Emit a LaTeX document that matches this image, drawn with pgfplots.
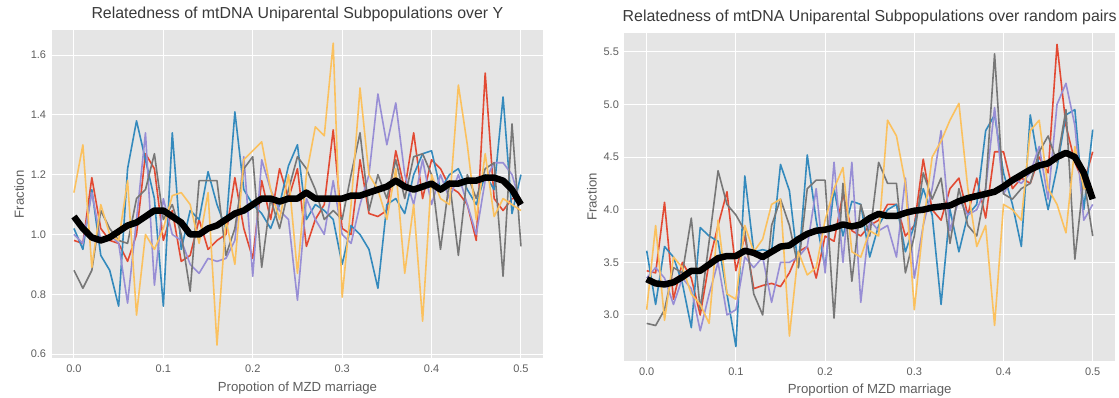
\documentclass[border=0pt]{standalone}
\usepackage{pgfplots}
\pgfplotsset{compat=1.18}
\usepackage{pgfplotstable}
\usepackage{fontspec}
\setmainfont{Liberation Sans}
\definecolor{cR}{HTML}{E24A33}
\definecolor{cB}{HTML}{348ABD}
\definecolor{cP}{HTML}{988ED5}
\definecolor{cG}{HTML}{777777}
\definecolor{cY}{HTML}{FBC15E}
\definecolor{bgc}{HTML}{E5E5E5}
\definecolor{tickc}{HTML}{5E5E5E}
\definecolor{titc}{HTML}{3A3A3A}

\pgfplotstableread{
x r b p g y k
0.00 0.98 1.02 1.00 0.88 1.14 1.06
0.01 0.97 0.95 0.97 0.82 1.30 1.02
0.02 1.19 1.15 1.14 0.88 0.89 0.99
0.03 1.02 0.93 0.98 1.08 1.10 0.98
0.04 0.98 0.88 1.00 1.02 1.00 0.99
0.05 0.97 0.76 0.97 0.98 0.98 1.01
0.06 0.91 1.22 0.77 0.97 1.18 1.03
0.07 1.00 1.38 1.05 1.12 0.73 1.04
0.08 1.27 1.25 1.34 1.15 1.00 1.06
0.09 1.22 1.12 0.83 1.27 0.95 1.08
0.10 0.98 0.76 1.12 1.05 1.02 1.08
0.11 1.08 1.34 1.00 1.10 1.13 1.06
0.12 0.91 0.95 0.98 1.00 1.14 1.04
0.13 0.93 1.08 0.90 0.81 1.10 1.00
0.14 1.05 1.05 0.87 1.18 0.97 1.00
0.15 0.95 1.21 0.92 1.18 1.14 1.02
0.16 0.98 1.10 0.91 1.18 0.63 1.03
0.17 1.00 1.02 0.92 0.93 1.05 1.05
0.18 1.19 1.41 0.98 1.02 0.90 1.07
0.19 1.02 1.15 1.26 1.22 1.25 1.08
0.20 0.92 1.10 0.86 1.26 1.28 1.10
0.21 1.18 1.07 1.25 0.89 1.31 1.12
0.22 1.05 1.02 1.15 1.12 1.15 1.12
0.23 1.22 1.10 1.08 1.02 1.05 1.11
0.24 1.12 1.23 1.05 1.15 1.20 1.12
0.25 1.22 1.30 0.78 1.26 0.87 1.12
0.26 0.96 1.05 1.12 1.22 1.20 1.14
0.27 1.05 1.10 1.05 1.15 1.36 1.12
0.28 1.10 1.08 1.00 1.05 1.33 1.12
0.29 1.35 1.05 1.18 1.08 1.64 1.12
0.30 1.02 0.90 1.00 1.05 0.79 1.12
0.31 1.00 1.03 0.97 1.20 1.10 1.13
0.32 1.25 1.00 1.10 1.34 1.49 1.13
0.33 1.07 0.95 1.20 1.08 1.20 1.14
0.34 1.06 0.82 1.47 1.20 1.15 1.15
0.35 1.08 1.10 1.30 1.12 1.05 1.16
0.36 1.28 1.12 1.44 1.25 1.22 1.18
0.37 1.15 1.07 1.20 1.12 0.87 1.16
0.38 1.34 1.20 1.10 1.26 1.10 1.15
0.39 1.12 1.27 1.25 1.27 0.71 1.16
0.40 1.25 1.28 1.10 1.20 1.20 1.17
0.41 1.22 1.15 1.20 0.95 1.12 1.15
0.42 1.16 1.20 1.12 1.18 1.10 1.17
0.43 1.14 1.22 1.20 0.93 1.50 1.17
0.44 1.10 1.15 1.10 1.20 1.30 1.18
0.45 0.98 1.10 1.00 1.12 1.05 1.18
0.46 1.54 1.20 1.18 1.22 1.27 1.19
0.47 1.12 1.15 1.24 1.24 1.06 1.19
0.48 1.08 1.46 1.24 0.86 1.12 1.18
0.49 1.12 1.07 1.20 1.37 1.10 1.15
0.50 1.12 1.20 1.10 0.96 1.08 1.10
}\tabL

\pgfplotstableread{
x r b p g y k
0.00 3.42 3.61 3.35 2.92 3.05 3.34
0.01 3.40 3.10 3.45 2.90 3.85 3.30
0.02 4.07 3.65 3.35 3.05 2.95 3.29
0.03 3.15 3.55 3.10 3.45 3.55 3.31
0.04 3.50 3.30 3.35 3.40 3.45 3.36
0.05 3.35 2.88 3.25 3.92 3.20 3.42
0.06 3.00 3.83 2.85 3.05 3.10 3.42
0.07 3.50 3.75 3.20 3.70 2.92 3.48
0.08 3.85 3.70 3.50 4.37 3.90 3.54
0.09 4.17 3.20 3.00 4.05 3.20 3.56
0.10 3.42 2.70 3.05 3.95 3.15 3.56
0.11 3.75 4.32 3.55 3.80 3.85 3.61
0.12 3.25 3.60 3.45 3.20 3.60 3.59
0.13 3.28 3.62 3.55 3.00 3.72 3.55
0.14 3.30 3.60 3.12 3.85 4.05 3.60
0.15 3.27 4.43 3.50 4.10 4.10 3.65
0.16 3.40 4.18 3.50 3.85 2.80 3.66
0.17 3.60 3.45 3.55 3.45 3.60 3.72
0.18 3.65 4.52 3.65 4.20 3.38 3.77
0.19 3.35 3.90 4.20 4.28 3.45 3.80
0.20 3.75 3.45 3.40 4.28 3.90 3.81
0.21 3.70 4.20 4.45 2.97 4.20 3.83
0.22 4.15 3.75 3.50 4.25 4.40 3.86
0.23 3.80 4.08 4.45 3.32 3.60 3.84
0.24 3.75 4.05 3.12 4.05 3.55 3.86
0.25 3.85 3.55 3.90 3.75 3.80 3.92
0.26 3.90 3.85 3.80 4.45 3.75 3.96
0.27 4.05 4.00 3.85 4.25 4.85 3.94
0.28 4.05 4.05 3.55 4.25 4.70 3.94
0.29 3.75 3.60 4.30 3.40 4.25 3.97
0.30 3.85 3.85 3.35 3.75 3.05 3.99
0.31 4.48 4.20 3.85 4.35 3.85 4.00
0.32 4.00 3.95 4.20 4.10 4.50 4.02
0.33 3.90 3.10 4.75 4.30 4.65 4.03
0.34 4.20 4.00 3.80 3.68 4.85 4.04
0.35 4.30 3.60 4.10 4.20 5.01 4.08
0.36 3.95 3.95 3.95 3.85 4.20 4.11
0.37 4.30 4.05 4.00 3.75 3.65 4.13
0.38 3.92 4.75 4.20 4.20 3.85 4.15
0.39 4.55 4.90 4.97 5.48 2.90 4.17
0.40 4.55 4.35 4.15 4.15 4.05 4.22
0.41 4.20 4.05 4.30 4.10 4.00 4.28
0.42 4.30 3.65 4.25 4.20 3.90 4.33
0.43 4.25 4.90 4.35 4.25 4.75 4.38
0.44 4.50 4.40 4.60 4.55 4.85 4.42
0.45 4.35 4.00 4.10 4.70 4.20 4.44
0.46 5.57 4.40 5.00 4.45 4.05 4.50
0.47 4.80 4.90 5.20 4.95 3.78 4.54
0.48 4.45 4.95 4.80 3.53 4.60 4.50
0.49 4.25 4.00 3.90 4.30 4.20 4.35
0.50 4.55 4.76 4.05 3.75 4.20 4.10
}\tabR

\pgfplotsset{
  gg/.style={
    scale only axis,
    axis background/.style={fill=bgc},
    axis line style={draw=none},
    grid=major,
    major grid style={white, line width=1pt},
    major tick length=0pt,
    tick label style={font=\fontsize{11}{12}\selectfont, text=tickc},
    xticklabel style={yshift=-3pt},
    yticklabel style={xshift=-2pt},
    label style={font=\fontsize{13.2}{14}\selectfont, text=tickc},
    xlabel style={yshift=-2pt},
    title style={font=\fontsize{15.9}{17}\selectfont, text=titc, yshift=-1pt},
    xmin=-0.025, xmax=0.525,
    xtick={0,0.1,0.2,0.3,0.4,0.5},
    xticklabels={0.0,0.1,0.2,0.3,0.4,0.5},
    ylabel={Fraction},
    every axis plot/.append style={line width=1.6pt, line join=round, mark=none},
  },
}

\begin{document}
\begin{tikzpicture}
\useasboundingbox (0,0) rectangle (1119pt,398pt);
\begin{axis}[gg, at={(51.6pt,39.5pt)}, anchor=south west, width=491.7pt, height=328.5pt,
  ymin=0.585, ymax=1.684,
  ytick={0.6,0.8,1.0,1.2,1.4,1.6}, yticklabels={0.6,0.8,1.0,1.2,1.4,1.6},
  title={Relatedness of mtDNA Uniparental Subpopulations over Y},
  xlabel={Propotion of MZD marriage}]
\addplot[cR] table[x=x,y=r]{\tabL};
\addplot[cB] table[x=x,y=b]{\tabL};
\addplot[cP] table[x=x,y=p]{\tabL};
\addplot[cG] table[x=x,y=g]{\tabL};
\addplot[cY] table[x=x,y=y]{\tabL};
\addplot[black, line width=6.5pt] table[x=x,y=k]{\tabL};
\end{axis}
\begin{axis}[gg, at={(624.4pt,37pt)}, anchor=south west, width=490.6pt, height=328pt,
  ymin=2.563, ymax=5.678,
  ytick={3.0,3.5,4.0,4.5,5.0,5.5}, yticklabels={3.0,3.5,4.0,4.5,5.0,5.5},
  title={Relatedness of mtDNA Uniparental Subpopulations over random pairs},
  xlabel={Proportion of MZD marriage}]
\addplot[cR] table[x=x,y=r]{\tabR};
\addplot[cB] table[x=x,y=b]{\tabR};
\addplot[cP] table[x=x,y=p]{\tabR};
\addplot[cG] table[x=x,y=g]{\tabR};
\addplot[cY] table[x=x,y=y]{\tabR};
\addplot[black, line width=6.5pt] table[x=x,y=k]{\tabR};
\end{axis}
\end{tikzpicture}
\end{document}
